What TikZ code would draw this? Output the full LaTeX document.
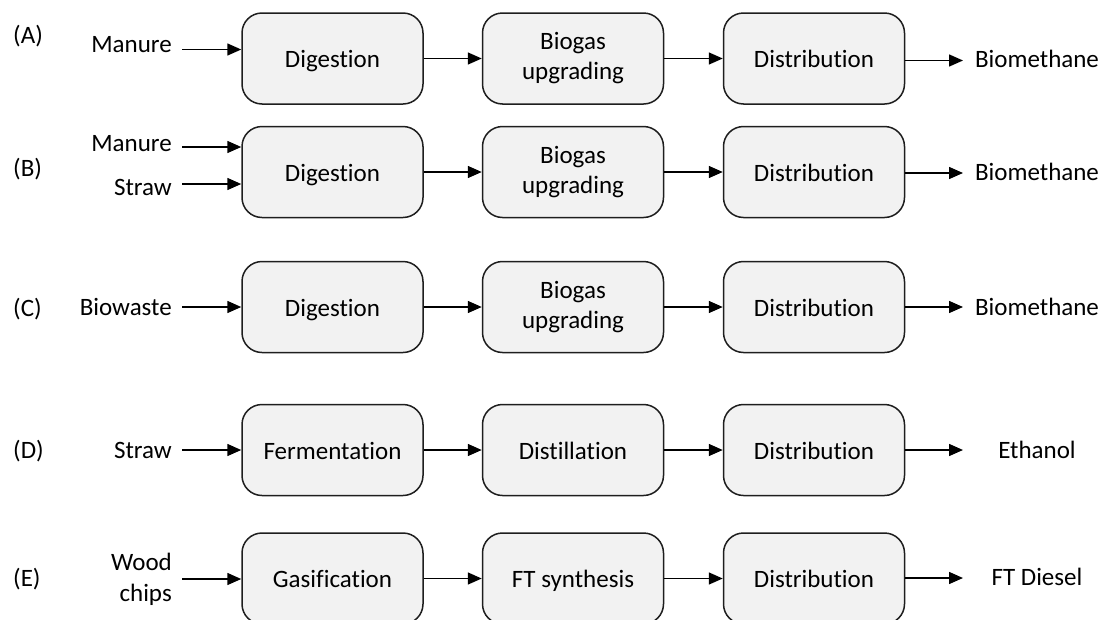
\documentclass[tikz,border=0pt]{standalone}
\usepackage{fontspec}
\setmainfont{Carlito}[Ligatures=NoCommon]
\usetikzlibrary{arrows.meta}
\definecolor{boxfill}{RGB}{242,242,242}
\definecolor{boxline}{RGB}{30,30,30}
\begin{document}
\begin{tikzpicture}[x=1pt,y=-1pt,
  txt/.style={inner sep=0pt, font=\fontsize{25}{31}\selectfont},
  proc/.style={draw=boxline, line width=1.5pt, fill=boxfill, rounded corners=20pt,
    minimum width=181pt, minimum height=91pt, inner sep=0pt, align=center,
    font=\fontsize{25}{30}\selectfont},
  proc1/.style={proc, text height=18pt, text depth=0pt},
  arr/.style={line width=1.5pt, -{Triangle[length=14pt,width=12pt]}}]
\useasboundingbox (0,0) rectangle (1104,619);

% ---------- row labels
\node[txt, anchor=base west] (lA) at (13,43)  {(A)};
\node[txt, anchor=base west] (lB) at (13,176) {(B)};
\node[txt, anchor=base west] (lC) at (13,316) {(C)};
\node[txt, anchor=base west] (lD) at (13,458) {(D)};
\node[txt, anchor=base west] (lE) at (13,586) {(E)};

% ---------- process boxes
\node[proc1] (dA)  at (332.5,58.5) {Digestion};
\node[proc]  (bA)  at (573,58.5)   {Biogas\\upgrading};
\node[proc1] (sA3) at (814,58.5)   {Distribution};

\node[proc1] (dB)  at (332.5,172) {Digestion};
\node[proc]  (bB)  at (573,172)   {Biogas\\upgrading};
\node[proc1] (sB3) at (814,172)   {Distribution};

\node[proc1] (dC)  at (332.5,307) {Digestion};
\node[proc]  (bC)  at (573,307)   {Biogas\\upgrading};
\node[proc1] (sC3) at (814,307)   {Distribution};

\node[proc1] (dD)  at (332.5,450) {Fermentation};
\node[proc1] (bD)  at (573,450)   {Distillation};
\node[proc1] (sD3) at (814,450)   {Distribution};

\node[proc1] (dE)  at (332.5,578.5) {Gasification};
\node[proc1] (bE)  at (573,578.5)   {FT synthesis};
\node[proc1] (sE3) at (814,578.5)   {Distribution};

% ---------- inputs
\node[txt, anchor=base east] (inA)  at (172,52)    {Manure};
\node[txt, anchor=base east] (inB1) at (172,151.5) {Manure};
\node[txt, anchor=base east] (inB2) at (172,195)   {Straw};
\node[txt, anchor=base east] (inC)  at (172,315.5) {Biowaste};
\node[txt, anchor=base east] (inD)  at (172,458)   {Straw};
\node[txt, anchor=east, align=right] (inE) at (172,579.5) {Wood\\chips};

\coordinate (pA)  at (182,49.5);
\coordinate (pB1) at (182,147);
\coordinate (pB2) at (182,184);
\coordinate (pC)  at (182,307);
\coordinate (pD)  at (182,450);
\coordinate (pE)  at (182,579);

\draw[arr] (pA)  -- (pA -| dA.west);
\draw[arr] (pB1) -- (pB1 -| dB.west);
\draw[arr] (pB2) -- (pB2 -| dB.west);
\draw[arr] (pC)  -- (pC -| dC.west);
\draw[arr] (pD)  -- (pD -| dD.west);
\draw[arr] (pE)  -- (pE -| dE.west);

% ---------- between boxes
\foreach \r in {A,B,C,D,E}{
  \draw[arr] (d\r.east) -- (b\r.west);
  \draw[arr] (b\r.east) -- (s\r3.west);
}

% ---------- outputs
\node[txt, anchor=base] (oA) at (1037,67)  {Biomethane};
\node[txt, anchor=base] (oB) at (1037,180) {Biomethane};
\node[txt, anchor=base] (oC) at (1037,315) {Biomethane};
\node[txt, anchor=base] (oD) at (1037,458) {Ethanol};
\node[txt, anchor=base] (oE) at (1037,585) {FT Diesel};

\coordinate (tA) at (963,60.5);
\coordinate (tB) at (963,173);
\coordinate (tC) at (963,307);
\coordinate (tD) at (963,450);
\coordinate (tE) at (963,578);

\draw[arr] (tA -| sA3.east) -- (tA);
\draw[arr] (tB -| sB3.east) -- (tB);
\draw[arr] (tC -| sC3.east) -- (tC);
\draw[arr] (tD -| sD3.east) -- (tD);
\draw[arr] (tE -| sE3.east) -- (tE);
\end{tikzpicture}
\end{document}
